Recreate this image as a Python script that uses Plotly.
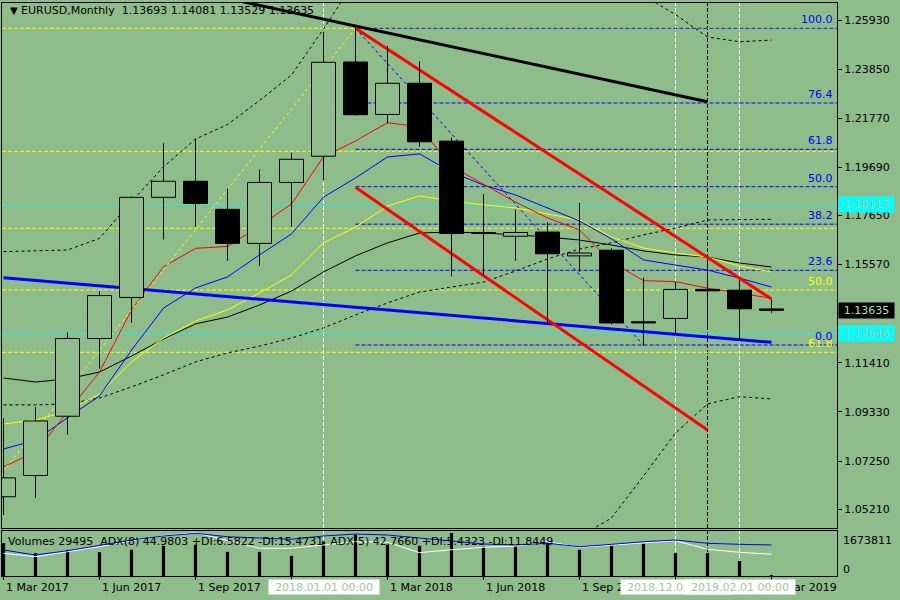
import plotly.graph_objects as go

# month index 0 = Mar 2017 ... 24 = Mar 2019
month_labels = ["Mar 2017", "Apr 2017", "May 2017", "Jun 2017", "Jul 2017", "Aug 2017",
                "Sep 2017", "Oct 2017", "Nov 2017", "Dec 2017", "Jan 2018", "Feb 2018",
                "Mar 2018", "Apr 2018", "May 2018", "Jun 2018", "Jul 2018", "Aug 2018",
                "Sep 2018", "Oct 2018", "Nov 2018", "Dec 2018", "Jan 2019", "Feb 2019",
                "Mar 2019"]
idx = list(range(len(month_labels)))

opens = [1.0574, 1.0664, 1.0915, 1.1244, 1.1418, 1.1842, 1.1910, 1.1791, 1.1647, 1.1905,
         1.2016, 1.2415, 1.2193, 1.2325, 1.2080, 1.1693, 1.1677, 1.1695, 1.1594, 1.1618,
         1.1315, 1.1329, 1.1452, 1.1449, 1.13693]
highs = [1.0907, 1.0954, 1.1270, 1.1446, 1.1846, 1.2071, 1.2092, 1.1880, 1.1960, 1.2031,
         1.2543, 1.2565, 1.2483, 1.2419, 1.2096, 1.1856, 1.1791, 1.1736, 1.1818, 1.1626,
         1.1503, 1.1484, 1.1580, 1.1491, 1.14081]
lows = [1.0496, 1.0569, 1.0837, 1.1117, 1.1310, 1.1664, 1.1717, 1.1573, 1.1552, 1.1717,
        1.1915, 1.2188, 1.2155, 1.2056, 1.1508, 1.1513, 1.1573, 1.1308, 1.1527, 1.1304,
        1.1213, 1.1265, 1.1285, 1.1240, 1.13529]
closes = [1.0654, 1.0895, 1.1244, 1.1426, 1.1842, 1.1910, 1.1816, 1.1647, 1.1905, 1.2003,
          1.2414, 1.2192, 1.2325, 1.2077, 1.1689, 1.1689, 1.1693, 1.1603, 1.1606, 1.1310,
          1.1310, 1.1452, 1.1446, 1.1370, 1.13635]
volumes = [1281800, 889800, 1019200, 929000, 1019200, 1176000, 1215200, 940800, 940800,
           784000, 1344500, 1607200, 1215200, 1176000, 1673811, 1148500, 1148500, 1281800,
           1019200, 1187700, 1254400, 889800, 889800, 588000, 29495]

ma_red = [1.0701, 1.0764, 1.0933, 1.1102, 1.1365, 1.1548, 1.1626, 1.1634, 1.1721, 1.1814,
          1.2014, 1.2081, 1.2158, 1.2141, 1.1973, 1.1899, 1.1822, 1.1755, 1.1704, 1.1568,
          1.1489, 1.1485, 1.1457, 1.1437, 1.1414]
ma_blue = [1.0776, 1.0814, 1.0908, 1.1001, 1.1195, 1.1373, 1.1458, 1.1505, 1.1598, 1.1687,
           1.1843, 1.1924, 1.2013, 1.2026, 1.1949, 1.1894, 1.1852, 1.1797, 1.1742, 1.1666,
           1.1577, 1.1555, 1.1534, 1.1500, 1.1462]
ma_yellow = [1.0882, 1.0899, 1.0937, 1.1009, 1.1145, 1.1246, 1.1318, 1.1365, 1.1437, 1.1513,
             1.1649, 1.1716, 1.1805, 1.1848, 1.1827, 1.1810, 1.1797, 1.1771, 1.1746, 1.1674,
             1.1627, 1.1606, 1.1589, 1.1551, 1.1526]
ma_black = [1.1077, 1.1060, 1.1073, 1.1102, 1.1170, 1.1242, 1.1306, 1.1335, 1.1386, 1.1445,
            1.1526, 1.1594, 1.1649, 1.1691, 1.1695, 1.1691, 1.1683, 1.1674, 1.1661, 1.1640,
            1.1615, 1.1598, 1.1589, 1.1564, 1.1547]
band_upper = [1.1612, 1.1615, 1.1619, 1.1668, 1.1824, 1.1971, 1.2089, 1.2150, 1.2252, 1.2360,
              1.2555, 1.2762, 1.2890, 1.2932, 1.2932, 1.2911, 1.2890, 1.2868, 1.2826, 1.2771,
              1.2697, 1.2616, 1.2521, 1.2501, 1.2508]
band_lower = [0.9713, 0.9756, 0.9798, 0.9840, 0.9883, 0.9925, 0.9967, 1.0010, 1.0052, 1.0094,
              1.0052, 1.0010, 1.0010, 1.0052, 1.0094, 1.0137, 1.0200, 1.0298, 1.0404, 1.0484,
              1.0662, 1.0844, 1.0967, 1.0998, 1.0988]
band_mid = [1.0963, 1.0963, 1.0967, 1.0992, 1.1039, 1.1090, 1.1145, 1.1183, 1.1212, 1.1246,
            1.1289, 1.1344, 1.1395, 1.1441, 1.1462, 1.1483, 1.1530, 1.1581, 1.1623, 1.1649,
            1.1683, 1.1712, 1.1746, 1.1748, 1.1749]

adx_blue = [57.8, 46.7, 56.2, 68.9, 80.0, 88.9, 94.9, 87.3, 83.8, 81.6, 88.9, 93.3, 91.1,
            85.1, 77.8, 71.1, 68.9, 72.7, 65.1, 70.4, 76.2, 80.0, 72.7, 70.4, 68.9]
adx_white = [50.4, 42.9, 54.0, 65.1, 78.4, 89.6, 96.2, 78.4, 61.6, 61.6, 68.9, 76.2, 74.9,
             51.8, 58.4, 63.8, 66.7, 76.2, 63.8, 68.9, 74.0, 78.4, 59.3, 52.7, 48.2]

# drawn objects: (month index, price) anchors
fib_blue_labels = ["0.0", "23.6", "38.2", "50.0", "61.8", "76.4", "100.0"]
fib_blue_prices = [1.12166, 1.15330, 1.17282, 1.18870, 1.20454, 1.22415, 1.25578]
fib_blue_start = 11
fib_yellow_labels = ["0.0", "23.6", "38.2", "50.0", "61.8"]
fib_yellow_prices = [1.25578, 1.20369, 1.17109, 1.14495, 1.11857]
fib_yellow_shown = ["50.0", "61.8"]
cyan_prices = [1.18112, 1.12646]
cyan_texts = ["1.18112", "1.12646"]
last_price = 1.13635

fib_blue_base_x = [11, 20]
fib_blue_base_y = [1.25578, 1.12166]
fib_yellow_base_x = [-2, 11]
fib_yellow_base_y = [1.03412, 1.25578]
red_upper_x = [11, 24]
red_upper_y = [1.25578, 1.14114]
red_lower_x = [11, 22]
red_lower_y = [1.18845, 1.08566]
black_trend_x = [7, 22]
black_trend_y = [1.2684, 1.2247]
blue_trend_x = [0, 24]
blue_trend_y = [1.15016, 1.12281]

vlines_white = [10, 21, 23]
vlines_black = [22]
vline_boxes = [(10, "2018.01.01 00:00"), (21, "2018.12.01 00:00"), (23, "2019.02.01 00:00")]

price_ticks = [1.25930, 1.23850, 1.21770, 1.19690, 1.17650, 1.15570, 1.13490,
               1.11410, 1.09330, 1.07250, 1.05210]
xtick_idx = [0, 3, 6, 9, 12, 15, 18, 21, 24]
xtick_text = ["1 Mar 2017", "1 Jun 2017", "1 Sep 2017", "1 Dec 2017", "1 Mar 2018",
              "1 Jun 2018", "1 Sep 2018", "1 Dec 2018", "1 Mar 2019"]

BG = "#8fbc8b"
FONT = "DejaVu Sans"
PALE = "#a3c6a3"
XR = [-0.047, 26.047]
YR = [1.04416, 1.26650]
VOL_TOP = 1751662
MAIN_BOTTOM = 48 / 573
SUB_TOP = 45 / 573


def px_x(x):
    return (x - 2) / 835


def px_y(y):
    return (576 - y) / 573


fig = go.Figure()


def line(x, y, color, width=1, dash=None, xa="x", ya="y"):
    fig.add_trace(go.Scatter(
        x=x, y=y, mode="lines", xaxis=xa, yaxis=ya,
        line=dict(color=color, width=width, dash=dash),
        hoverinfo="skip", showlegend=False,
    ))


# horizontal levels
for p in fib_yellow_prices:
    line([XR[0], XR[1]], [p, p], "#ffff00", dash="4px,2px")
for p in cyan_prices:
    line([XR[0], XR[1]], [p, p], "#00ffff", dash="4px,2px")
for p in fib_blue_prices:
    line([fib_blue_start, XR[1]], [p, p], "#0000ff", dash="4px,2px")

# indicators
line(idx, band_upper, "black", dash="3px,3px")
line(idx, band_lower, "black", dash="3px,3px")
line(idx, band_mid, "black", dash="3px,3px")
line(idx, ma_black, "black")
line(idx, ma_yellow, "#ffff00")
line(idx, ma_blue, "#0000ff")
line(idx, ma_red, "#ff0000")

# trend objects
line(fib_yellow_base_x, fib_yellow_base_y, "#ffff00", dash="3px,3px")
line(fib_blue_base_x, fib_blue_base_y, "#0000ff", dash="3px,3px")
line(blue_trend_x, blue_trend_y, "#0000ff", width=3)
line(black_trend_x, black_trend_y, "black", width=3)
line(red_upper_x, red_upper_y, "#ff0000", width=3)
line(red_lower_x, red_lower_y, "#ff0000", width=3)

# candles (on an overlaying axis pair so they sit above the lines)
wx, wy = [], []
for i in idx:
    top = max(opens[i], closes[i])
    bot = min(opens[i], closes[i])
    wx += [i, i, None, i, i, None]
    wy += [highs[i], top, None, bot, lows[i], None]
line(wx, wy, "black", xa="x2", ya="y2")

fig.add_trace(go.Bar(
    x=idx,
    y=[abs(c - o) for o, c in zip(opens, closes)],
    base=[min(o, c) for o, c in zip(opens, closes)],
    width=0.75, xaxis="x2", yaxis="y2",
    marker=dict(color=[BG if c > o else "black" for o, c in zip(opens, closes)],
                line=dict(color="black", width=1)),
    hoverinfo="skip", showlegend=False,
))

# volume subwindow
line(idx, adx_white, "white", xa="x3", ya="y4")
line(idx, adx_blue, "#0000ff", xa="x3", ya="y4")
fig.add_trace(go.Bar(
    x=idx, y=volumes, width=0.1, xaxis="x3", yaxis="y3",
    marker=dict(color="black", line=dict(width=0)),
    hoverinfo="skip", showlegend=False,
))

shapes = []
for v in vlines_white:
    shapes.append(dict(type="line", xref="x", yref="paper", x0=v, x1=v, y0=0, y1=1,
                       layer="below", line=dict(color="white", width=1, dash="4px,2px")))
for v in vlines_black:
    shapes.append(dict(type="line", xref="x", yref="paper", x0=v, x1=v, y0=0, y1=1,
                       layer="below", line=dict(color="black", width=1, dash="4px,2px")))

ann = []


def text(t, x, y, xanchor="left", color="black", size=11, xref="paper", yref="paper",
         yanchor="middle", **kw):
    ann.append(dict(text=t, x=x, y=y, xref=xref, yref=yref, xanchor=xanchor,
                    yanchor=yanchor, showarrow=False,
                    font=dict(family=FONT, size=size, color=color), **kw))


NB = "\u00a0"
text("\u25bc", px_x(14), px_y(11), xanchor="center", size=10)
text("EURUSD,Monthly" + NB * 2 + "1.13693 1.14081 1.13529 1.13635", px_x(19), px_y(11))

for lab, p in zip(fib_yellow_labels, fib_yellow_prices):
    if lab in fib_yellow_shown:
        text(lab, 1, p, xanchor="right", yref="y", yanchor="bottom", color="#ffff00",
             xshift=-2)
for lab, p in zip(fib_blue_labels, fib_blue_prices):
    text(lab, 1, p, xanchor="right", yref="y", yanchor="bottom", color="#0000ff", xshift=-2)

for p, t in zip(cyan_prices, cyan_texts):
    text(t, px_x(838), p, yref="y", color=PALE, bgcolor="#00ffff", width=53, height=13,
         borderpad=1, align="center")
text(f"{last_price:.5f}", px_x(838), last_price, yref="y", color="#b8dcb8",
     bgcolor="black", width=53, height=13, borderpad=1, align="center")

text("Volumes 29495" + NB * 2 + "ADX(8) 44.9803 +DI:6.5822 -DI:15.4731" + NB * 2
     + "ADX(5) 42.7660 +DI:5.4323 -DI:11.8449", px_x(6), px_y(541))
text(f"{max(volumes)}", px_x(841), px_y(540))
text("0", px_x(841), px_y(569))

for i, t in zip(xtick_idx, xtick_text):
    text(t, i, px_y(587), xref="x")
for i, t in vline_boxes:
    text(t, i, px_y(587), xref="x", xanchor="center", color=PALE, bgcolor="white",
         width=108, height=12, borderpad=1, align="center")

axis_common = dict(showgrid=False, zeroline=False, showline=True, linecolor="black",
                   linewidth=1, mirror=True, automargin=False)

fig.update_layout(
    width=900, height=600,
    margin=dict(l=2, r=63, t=3, b=24, autoexpand=False),
    paper_bgcolor=BG, plot_bgcolor=BG,
    showlegend=False, barmode="overlay", hovermode=False,
    xaxis=dict(domain=[0, 1], range=XR, anchor="y", showticklabels=False, ticks="",
               **axis_common),
    yaxis=dict(domain=[MAIN_BOTTOM, 1], range=YR, anchor="x", side="right",
               tickvals=price_ticks, ticktext=[f"{v:.5f}" for v in price_ticks],
               ticks="outside", ticklen=4, tickcolor="black",
               tickfont=dict(family=FONT, size=11, color="black"), **axis_common),
    xaxis2=dict(range=XR, overlaying="x", visible=False),
    yaxis2=dict(range=YR, overlaying="y", visible=False, anchor="x2"),
    xaxis3=dict(domain=[0, 1], range=XR, anchor="y3", tickvals=xtick_idx,
                showticklabels=False, ticks="outside", ticklen=3, tickcolor="black",
                **axis_common),
    yaxis3=dict(domain=[0, SUB_TOP], range=[0, VOL_TOP], anchor="x3", side="right",
                showticklabels=False, ticks="", **axis_common),
    yaxis4=dict(range=[0, 100], overlaying="y3", anchor="x3", visible=False),
    shapes=shapes,
    annotations=ann,
)

# the page's default 8px body margin would shift the figure
fig.write_html("out.html", config={"displayModeBar": False},
               post_script="document.body.style.margin='0';")
